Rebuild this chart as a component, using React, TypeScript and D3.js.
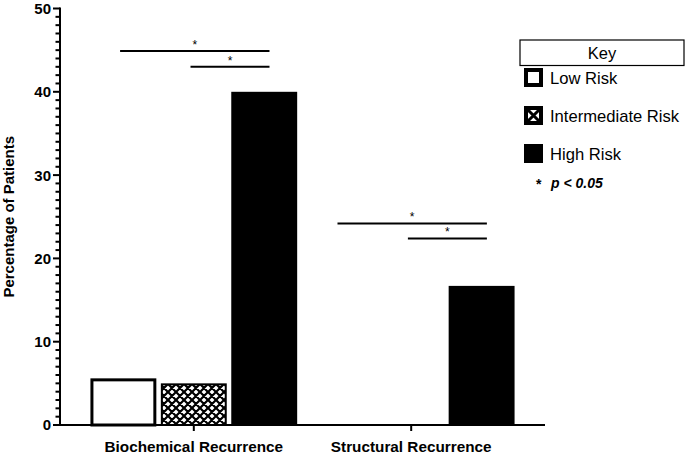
import React from "react";
import * as d3 from "d3";

const categories = ["Biochemical Recurrence", "Structural Recurrence"];
const riskGroups = ["Low Risk", "Intermediate Risk", "High Risk"];
const lowRisk = [5.6, 0];
const intermediateRisk = [5.0, 0];
const highRisk = [40, 16.7];
const yTicks = [0, 10, 20, 30, 40, 50];
// significance brackets: category index, compared groups, bracket height (% value)
const sigBrackets = [
  { cat: 0, from: 0, to: 2, value: 44.9 },
  { cat: 0, from: 1, to: 2, value: 43.0 },
  { cat: 1, from: 0, to: 2, value: 24.2 },
  { cat: 1, from: 1, to: 2, value: 22.4 },
];

const W = 685;
const H = 455;

export default function App() {
  const y = d3.scaleLinear().domain([0, 50]).range([425, 8.5]);
  const x0 = d3.scaleBand().domain(categories).range([60, 545]).paddingInner(0.049).paddingOuter(0.14);
  const x1 = d3.scaleBand().domain(riskGroups).range([0, x0.bandwidth()]).paddingInner(0.064);
  const series = [lowRisk, intermediateRisk, highRisk];
  const minor = d3.range(0, 51, 1);
  const font = "Arial, 'Liberation Sans', Helvetica, sans-serif";

  const catCenter = (c: string) => (x0(c) as number) + x0.bandwidth() / 2;
  const barLeft = (c: string, g: string) => (x0(c) as number) + (x1(g) as number);

  return (
    <svg width={W} height={H} style={{ position: "absolute", left: 0, top: 0, fontFamily: font }}>
      <defs>
        <pattern id="hatch" patternUnits="userSpaceOnUse" width="8" height="8">
          <rect width="8" height="8" fill="#fff" />
          <path d="M0,0L8,8M8,0L0,8M-1,7L1,9M7,-1L9,1" stroke="#000" strokeWidth="2.2" />
        </pattern>
      </defs>
      <rect width={W} height={H} fill="#fff" />

      {/* bars */}
      {categories.map((c, ci) =>
        riskGroups.map((g, gi) => {
          const v = series[gi][ci];
          if (v <= 0) return null;
          const bx = barLeft(c, g);
          const bw = x1.bandwidth();
          const top = y(v);
          const h = y(0) - top;
          if (gi === 0) {
            return (
              <rect key={c + g} x={bx + 1.5} y={top + 1.5} width={bw - 3} height={h - 1.5}
                fill="#fff" stroke="#000" strokeWidth={3} />
            );
          }
          if (gi === 1) {
            return (
              <rect key={c + g} x={bx + 1} y={top + 1} width={bw - 2} height={h - 1}
                fill="url(#hatch)" stroke="#000" strokeWidth={2} />
            );
          }
          return <rect key={c + g} x={bx} y={top} width={bw} height={h} fill="#000" />;
        })
      )}

      {/* y axis */}
      <line x1={60} x2={60} y1={y(50) - 1} y2={y(0)} stroke="#000" strokeWidth={2} />
      {minor.map((t) => (
        <line key={"m" + t} x1={t % 10 === 0 ? 53 : 55.5} x2={60} y1={y(t)} y2={y(t)} stroke="#000" strokeWidth={2} />
      ))}
      {yTicks.map((t) => (
        <text key={"t" + t} x={51} y={y(t)} dy="0.36em" textAnchor="end" fontSize={15} fontWeight="bold">
          {t}
        </text>
      ))}
      <text transform={`translate(14,${(y(0) + y(50)) / 2}) rotate(-90)`} textAnchor="middle"
        fontSize={15} fontWeight="bold">
        Percentage of Patients
      </text>

      {/* x axis */}
      <line x1={59} x2={545} y1={y(0)} y2={y(0)} stroke="#000" strokeWidth={2} />
      {categories.map((c) => (
        <g key={"x" + c}>
          <line x1={catCenter(c)} x2={catCenter(c)} y1={y(0)} y2={y(0) + 6} stroke="#000" strokeWidth={2} />
          <text x={catCenter(c)} y={452} textAnchor="middle" fontSize={15.3} fontWeight="bold">
            {c}
          </text>
        </g>
      ))}

      {/* significance brackets */}
      {sigBrackets.map((b, i) => {
        const c = categories[b.cat];
        const bw = x1.bandwidth();
        const xa = barLeft(c, riskGroups[b.from]) + bw * 0.45;
        const xb = barLeft(c, riskGroups[b.to]) + bw * 0.58;
        const yl = y(b.value);
        return (
          <g key={"s" + i}>
            <line x1={xa} x2={xb} y1={yl} y2={yl} stroke="#000" strokeWidth={2} />
            <text x={(xa + xb) / 2} y={yl - 2} textAnchor="middle" fontSize={12}>
              *
            </text>
          </g>
        );
      })}

      {/* legend */}
      <rect x={520} y={40} width={164} height={25.5} fill="#fff" stroke="#000" strokeWidth={1.2} />
      <text x={602} y={59} textAnchor="middle" fontSize={16.5}>Key</text>
      {riskGroups.map((g, i) => {
        const ly = 68 + i * 38;
        return (
          <g key={"l" + g}>
            {i === 0 && (
              <rect x={526} y={ly + 2} width={15} height={15} fill="#fff" stroke="#000" strokeWidth={4} />
            )}
            {i === 1 && (
              <g>
                <rect x={524} y={ly} width={19} height={19} fill="#000" />
                <rect x={528} y={ly + 4} width={11} height={11} fill="#fff" />
                <path d={`M528,${ly + 4}L539,${ly + 15}M539,${ly + 4}L528,${ly + 15}`} stroke="#000" strokeWidth={3} />
              </g>
            )}
            {i === 2 && <rect x={524} y={ly} width={19} height={19} fill="#000" />}
            <text x={550} y={ly + 16} fontSize={16.6}>{g}</text>
          </g>
        );
      })}
      <text x={536} y={189} fontSize={14} fontWeight="bold">*</text>
      <text x={551} y={188} fontSize={14} fontWeight="bold" fontStyle="italic">p &lt; 0.05</text>
    </svg>
  );
}
